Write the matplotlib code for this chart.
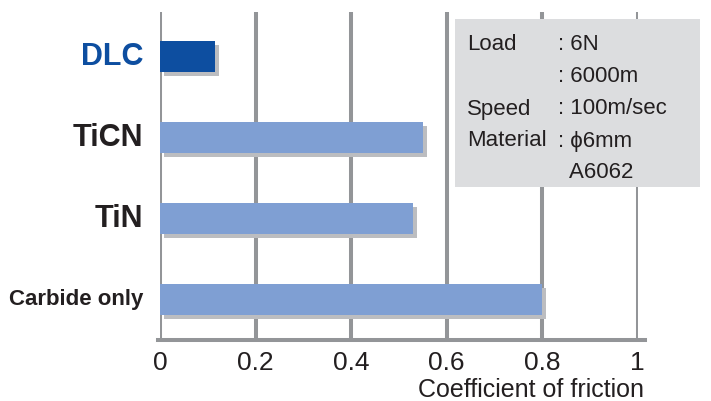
import matplotlib.pyplot as plt
import matplotlib.patheffects as pe
from matplotlib.patches import Rectangle
from matplotlib.lines import Line2D

# Данные
categories = ["Carbide only", "TiN", "TiCN", "DLC"]
friction = [0.80, 0.53, 0.55, 0.115]
bar_colors = ["#7f9fd3", "#7f9fd3", "#7f9fd3", "#0d4ea0"]
label_colors = ["#231f20", "#231f20", "#231f20", "#0d4ea0"]
xticks = [0, 0.2, 0.4, 0.6, 0.8, 1]
xtick_labels = ["0", "0.2", "0.4", "0.6", "0.8", "1"]
cond_names = ["Load", "", "Speed", "Material", ""]
cond_values = [": 6N", ": 6000m", ": 100m/sec", ": \u03d56mm", "  A6062"]

grid_col = "#939598"
plt.rcParams['font.family'] = ['Liberation Sans', 'DejaVu Sans']

fig = plt.figure(figsize=(7.11, 4.01), dpi=100)
ax = fig.add_axes([0.225, 0.152, 0.672, 0.818])

# Сетка
for x in xticks:
    ax.axvline(x, color=grid_col, lw=2.9, zorder=1)
ax.add_line(Line2D([-0.004, 1.015], [0, 0], transform=ax.transAxes,
                   color=grid_col, lw=2.9, clip_on=False, zorder=1))

# Столбцы с тенью
y = list(range(len(categories)))
bars = ax.barh(y, friction, height=0.38, color=bar_colors, zorder=2)
for b in bars:
    b.set_path_effects([pe.SimplePatchShadow(offset=(2.9, -2.9),
                                             shadow_rgbFace="#bcbdc0", alpha=1),
                        pe.Normal()])

ax.set_xlim(0, 1)
ax.set_ylim(-0.5, 3.55)
for s in ax.spines.values():
    s.set_visible(False)

ax.set_xticks(xticks)
ax.set_xticklabels(xtick_labels, fontsize=19, color="#231f20")
ax.tick_params(axis='x', length=0, pad=8)
ax.set_yticks(y)
ax.set_yticklabels([])
ax.tick_params(axis='y', length=0)

for i, name in enumerate(categories):
    size = 16 if name == "Carbide only" else 22
    ax.text(-0.035, i, name, ha='right', va='center', fontsize=size,
            fontweight='bold', color=label_colors[i])

fig.text(531 / 711, 1 - 390 / 401, "Coefficient of friction", ha='center',
         va='center', fontsize=18, color="#231f20")

# Блок условий
fig.patches.append(Rectangle((455 / 711, 1 - 187 / 401), 245 / 711, 168 / 401,
                             transform=fig.transFigure, facecolor="#dcdddf",
                             edgecolor='none', zorder=3))
for k in range(len(cond_names)):
    yy = 1 - (45 + k * 32) / 401
    fig.text(467 / 711, yy, cond_names[k], ha='left', va='center',
             fontsize=16, color="#231f20", zorder=4)
    fig.text(558 / 711, yy, cond_values[k], ha='left', va='center',
             fontsize=16, color="#231f20", zorder=4)

fig.savefig("out.png", dpi=100)
